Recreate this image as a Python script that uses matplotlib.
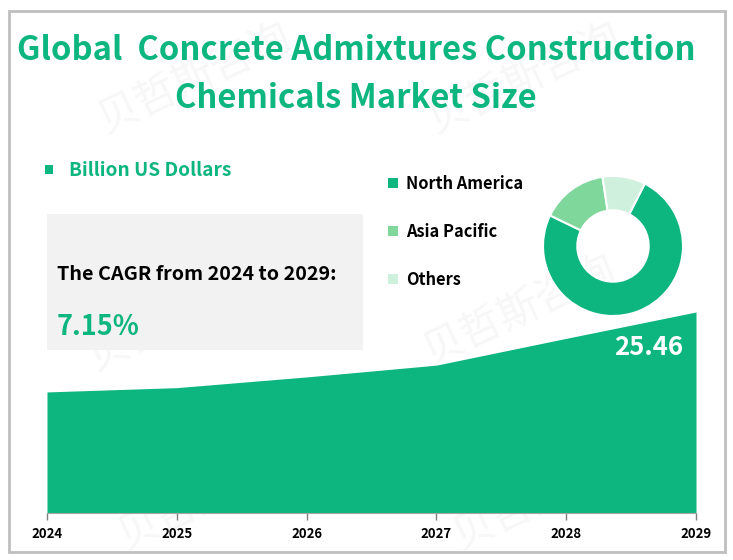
import matplotlib
matplotlib.use('Agg')
import matplotlib.pyplot as plt
from matplotlib.patches import Rectangle

plt.rcParams['font.family'] = ['Noto Sans CJK SC', 'DejaVu Sans']

W, H = 733, 560
green = '#0DB57F'

years = [2024, 2025, 2026, 2027, 2028, 2029]
market_size = [18.0, 18.4, 19.4, 20.5, 23.0, 25.46]
regions = ['North America', 'Asia Pacific', 'Others']
region_share = [74.7, 15.4, 9.9]
region_colors = ['#0DB57F', '#80D79C', '#CEF0DC']
watermark = '贝哲斯咨询'
watermark_spots = [(195, 78), (525, 78), (185, 315), (520, 310), (215, 494), (550, 494)]


def box(x0, y0, x1, y1):
    # pixel box (top-left origin) to figure coords
    return [x0 / W, 1 - y1 / H, (x1 - x0) / W, (y1 - y0) / H]


def put(x, y, s, **kw):
    fig.text(x / W, 1 - y / H, s, **kw)


fig = plt.figure(figsize=(W / 100, H / 100), dpi=100, facecolor='white')

# frame and grey card
fig.add_artist(Rectangle((8.5 / W, 1 - 551.5 / H), 716 / W, 541 / H, transform=fig.transFigure,
                         fill=False, edgecolor='#BFBFBF', linewidth=2))
for x, y in watermark_spots:
    put(x, y, watermark, fontsize=30, color='#F7F7F7', rotation=25, ha='center', va='center',
        zorder=-1)
fig.add_artist(Rectangle((47 / W, 1 - 350 / H), 316 / W, 136 / H, transform=fig.transFigure,
                         facecolor='#F2F2F2', edgecolor='none', zorder=-0.5))

# title
put(356, 50, 'Global  Concrete Admixtures Construction', fontsize=23.6, fontweight='bold',
    color=green, ha='center', va='center')
put(356, 98, 'Chemicals Market Size', fontsize=23.6, fontweight='bold',
    color=green, ha='center', va='center')

# unit legend
fig.add_artist(Rectangle((45 / W, 1 - 174 / H), 8 / W, 9 / H, transform=fig.transFigure,
                         facecolor=green, edgecolor='none'))
put(69, 171, 'Billion US Dollars', fontsize=13.7, fontweight='bold', color=green, va='center')

# CAGR card text
put(57, 275, 'The CAGR from 2024 to 2029:', fontsize=14.2, fontweight='bold', color='black', va='center')
put(57, 327, '7.15%', fontsize=19.5, fontweight='bold', color=green, va='center')

# area chart
ax = fig.add_axes(box(47, 312, 696, 513))
ax.patch.set_alpha(0)
ax.fill_between(years, market_size, 6.7, color=green, linewidth=0)
ax.set_xlim(2024, 2029)
ax.set_ylim(6.7, 25.46)
ax.set_yticks([])
ax.set_xticks(years)
ax.tick_params(axis='x', length=5, width=1, color='#7F7F7F', pad=5)
for lab in ax.get_xticklabels():
    lab.set_fontsize(9.5)
    lab.set_fontweight('bold')
for side in ['top', 'left', 'right']:
    ax.spines[side].set_visible(False)
ax.spines['bottom'].set_color('#A6A6A6')
ax.annotate('25.46', (years[-1], market_size[-1]), xytext=(-9, -16), textcoords='offset points',
            ha='right', va='top', color='white', fontsize=18.5, fontweight='bold')

# donut
pie_ax = fig.add_axes(box(543, 176, 683, 316))
pie_ax.pie(region_share, colors=region_colors, startangle=63, counterclock=False, radius=1,
           wedgeprops=dict(width=0.49, edgecolor='white', linewidth=1.5))
pie_ax.set_xlim(-1, 1)
pie_ax.set_ylim(-1, 1)

# donut legend
for name, col, y in zip(regions, region_colors, [183, 231, 279]):
    fig.add_artist(Rectangle((388 / W, 1 - (y + 5) / H), 10 / W, 10 / H, transform=fig.transFigure,
                             facecolor=col, edgecolor='none'))
    put(406, y + 1, name, fontsize=11.8, fontweight='bold', color='black', va='center')

fig.savefig('out.png', dpi=100)
